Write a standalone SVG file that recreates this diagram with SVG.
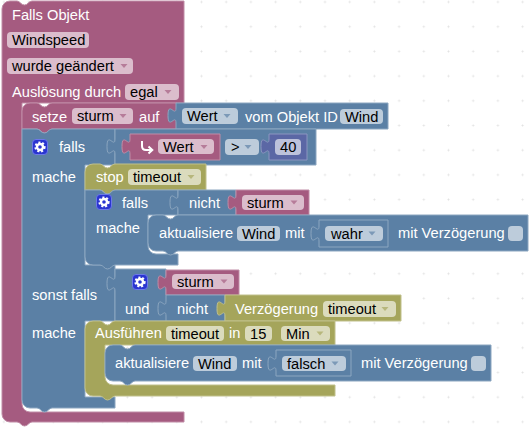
<svg xmlns="http://www.w3.org/2000/svg" xmlns:xlink="http://www.w3.org/1999/xlink" width="531" height="429" viewBox="0 0 531 429">
<style>
text{font-family:"Liberation Sans",Arial,sans-serif;font-size:14.67px}
.l{fill:#fff}.d{fill:#000}
.pk{fill:#A55B80;stroke:#C08CA6;stroke-width:1}
.bl{fill:#5B80A5;stroke:#8CA6C0;stroke-width:1}
.ol{fill:#A5A55B;stroke:#C0C08C;stroke-width:1}
.pu{fill:#5B67A5;stroke:#8C95C0;stroke-width:1}
.fp{fill:#DBBDCC}.fb{fill:#BDCCDB}.fo{fill:#DBDBBD}.fu{fill:#BDC2DB}
.ap{fill:#B67C99}.ab{fill:#7C99B7}.ao{fill:#B7B77C}
.gb{fill:#2A35D0;stroke:#6C78E8;stroke-width:1}
.gr{fill:none;stroke:#fff;stroke-width:2.4}
.gt{fill:none;stroke:#fff;stroke-width:2;stroke-dasharray:2 1.9}
</style>
<defs>
<pattern id="grid" patternUnits="userSpaceOnUse" x="-8.45" y="-10.35" width="24.7" height="24.7">
<path d="M11.35,12.35h2M12.35,11.35v2" stroke="#e2e2e2" stroke-width="1" fill="none"/>
</pattern>
<path id="arr" d="M-3.5,-2h7l-3.5,4z"/>
<g id="gear">
<rect class="gb" x="0.5" y="0.5" width="15" height="15" rx="3.5"/>
<circle class="gt" cx="8" cy="8" r="4.6"/>
<circle class="gr" cx="8" cy="8" r="3"/>
</g>
</defs>
<rect width="531" height="429" fill="#fff"/>
<rect width="531" height="429" fill="url(#grid)"/>

<g id="trigger">
<path class="pk" d="M2,9a8,8 0 0 1 8,-8H17c3,0 4,4 7.500,4s4,-4 7.500,-4H184V103H22V404a8,8 0 0 0 8,8H184V422H32c-3,0 -4,4 -7.500,4s-4,-4 -7.500,-4H10a8,8 0 0 1 -8,-8z"/>
<text class="l" x="12" y="20">Falls Objekt</text>
<rect class="fp" x="7" y="32" width="82" height="16" rx="4"/><text class="d" x="12" y="45">Windspeed</text>
<rect class="fp" x="7" y="58" width="126" height="16" rx="4"/><text class="d" x="12" y="71">wurde geändert</text><use href="#arr" x="124" y="66" class="ap"/>
<text class="l" x="12" y="97">Auslösung durch</text>
<rect class="fp" x="125" y="84" width="54" height="16" rx="4"/><text class="d" x="130" y="97">egal</text><use href="#arr" x="168" y="92" class="ap"/>
</g>

<g id="setze">
<path class="pk" d="M22,111a8,8 0 0 1 8,-8H37c3,0 4,4 7.500,4s4,-4 7.500,-4H177V129H52c-3,0 -4,4 -7.500,4s-4,-4 -7.500,-4H22z"/>
<text class="l" x="32" y="122">setze</text>
<rect class="fp" x="72" y="108" width="61" height="16" rx="4"/><text class="d" x="77" y="121">sturm</text><use href="#arr" x="123" y="116" class="ap"/>
<text class="l" x="139" y="122">auf</text>
</g>
<g id="wert-objekt">
<path class="bl" d="M176,103H388V129H176V123c0,-10 -8,8 -8,-7.500s8,2.500 8,-7.500z"/>
<rect class="fb" x="182" y="108" width="56" height="16" rx="4"/><text class="d" x="187" y="121">Wert</text><use href="#arr" x="227" y="116" class="ab"/>
<text class="l" x="245" y="122">vom Objekt ID</text>
<rect class="fb" x="340" y="109" width="43" height="15" rx="4"/><text class="d" x="345" y="121.500">Wind</text>
</g>

<g id="falls-outer">
<path class="bl" d="M22,129H37c3,0 4,4 7.500,4s4,-4 7.500,-4H115V165H85V265H115V321H85V397H115V408H52c-3,0 -4,4 -7.500,4s-4,-4 -7.500,-4H30a8,8 0 0 1 -8,-8z"/>
<use href="#gear" x="32" y="139"/>
<text class="l" x="59" y="152">falls</text>
<text class="l" x="32" y="182">mache</text>
<text class="l" x="32" y="300">sonst falls</text>
<text class="l" x="32" y="338">mache</text>
</g>

<g id="vergleich">
<path class="bl" d="M115,129H316V165H115V154c0,-10 -8,8 -8,-7.500s8,2.500 8,-7.500z"/>
<rect class="fb" x="225" y="139" width="34" height="16" rx="4"/><text class="d" x="231" y="152">&gt;</text><use href="#arr" x="248" y="147" class="ab"/>
</g>
<g id="wert-var">
<path class="pk" d="M130,134H220V160H130V154c0,-10 -8,8 -8,-7.500s8,2.500 8,-7.500z"/>
<path d="M142,141v5q0,4 4,4h6M148.500,146.500l3.800,3.500l-3.800,3.500" fill="none" stroke="#fff" stroke-width="2"/>
<rect class="fp" x="158" y="139" width="56" height="15" rx="4"/><text class="d" x="163" y="152">Wert</text><use href="#arr" x="204" y="147" class="ap"/>
</g>
<g id="zahl">
<path class="pu" d="M269,134H307V160H269V154c0,-10 -8,8 -8,-7.500s8,2.500 8,-7.500z"/>
<rect class="fu" x="275" y="139" width="26" height="16" rx="4"/><text class="d" x="280" y="152">40</text>
</g>

<g id="stop">
<path class="ol" d="M85,172a8,8 0 0 1 8,-8H100c3,0 4,4 7.500,4s4,-4 7.500,-4H206V190H115c-3,0 -4,4 -7.500,4s-4,-4 -7.500,-4H85z"/>
<text class="l" x="96" y="182">stop</text>
<rect class="fo" x="128" y="169" width="73" height="16" rx="4"/><text class="d" x="133" y="182">timeout</text><use href="#arr" x="191" y="177" class="ao"/>
</g>

<g id="falls-inner">
<path class="bl" d="M85,190H100c3,0 4,4 7.500,4s4,-4 7.500,-4H178V215H148V246a8,8 0 0 0 8,8H178V265H115c-3,0 -4,4 -7.500,4s-4,-4 -7.500,-4H93a8,8 0 0 1 -8,-8z"/>
<use href="#gear" x="96" y="194"/>
<text class="l" x="122" y="208">falls</text>
<text class="l" x="96" y="233">mache</text>
</g>
<g id="nicht-1">
<path class="bl" d="M178,190H236V215H178V210c0,-10 -8,8 -8,-7.500s8,2.500 8,-7.500z"/>
<text class="l" x="189" y="208">nicht</text>
</g>
<g id="sturm-1">
<path class="pk" d="M236,190H309V215H236V210c0,-10 -8,8 -8,-7.500s8,2.500 8,-7.500z"/>
<rect class="fp" x="242" y="195" width="62" height="15" rx="4"/><text class="d" x="247" y="207.500">sturm</text><use href="#arr" x="294" y="202.500" class="ap"/>
</g>

<g id="aktualisiere-1">
<path class="bl" d="M148,223a8,8 0 0 1 8,-8H163c3,0 4,4 7.500,4s4,-4 7.500,-4H528V251H178c-3,0 -4,4 -7.500,4s-4,-4 -7.500,-4H156a8,8 0 0 1 -8,-8z"/>
<text class="l" x="159" y="238">aktualisiere</text>
<rect class="fb" x="237" y="226" width="43" height="15" rx="4"/><text class="d" x="242" y="238.500">Wind</text>
<text class="l" x="285" y="238">mit</text>
<path class="bl" d="M319,220H388V247H319V241c0,-10 -8,8 -8,-7.500s8,2.500 8,-7.500z"/>
<rect class="fb" x="325" y="226" width="58" height="15" rx="4"/><text class="d" x="331" y="238.500">wahr</text><use href="#arr" x="372" y="233.500" class="ab"/>
<text class="l" x="398" y="238">mit Verzögerung</text>
<rect class="fb" x="508" y="226" width="15" height="15" rx="4"/>
</g>

<g id="und">
<path class="bl" d="M115,269H166V295H225V321H115V291c0,-10 -8,8 -8,-7.500s8,2.500 8,-7.500z"/>
<use href="#gear" x="132" y="274"/>
<text class="l" x="125" y="314">und</text>
</g>
<g id="sturm-2">
<path class="pk" d="M166,270H239V295H166V290c0,-10 -8,8 -8,-7.500s8,2.500 8,-7.500z"/>
<rect class="fp" x="172" y="274" width="62" height="15" rx="4"/><text class="d" x="177" y="286.500">sturm</text><use href="#arr" x="224" y="281.500" class="ap"/>
</g>
<g id="nicht-2">
<path class="bl" d="M166,295H225V321H166V316c0,-10 -8,8 -8,-7.500s8,2.500 8,-7.500z"/>
<text class="l" x="177" y="314">nicht</text>
</g>
<g id="verzoegerung">
<path class="ol" d="M225,295H401V321H225V316c0,-10 -8,8 -8,-7.500s8,2.500 8,-7.500z"/>
<text class="l" x="235" y="314">Verzögerung</text>
<rect class="fo" x="323" y="301" width="73" height="16" rx="4"/><text class="d" x="328" y="314">timeout</text><use href="#arr" x="385" y="309" class="ao"/>
</g>

<g id="ausfuehren">
<path class="ol" d="M85,329a8,8 0 0 1 8,-8H100c3,0 4,4 7.500,4s4,-4 7.500,-4H335V345H105V377a8,8 0 0 0 8,8H335V396H115c-3,0 -4,4 -7.500,4s-4,-4 -7.500,-4H93a8,8 0 0 1 -8,-8z"/>
<text class="l" x="95" y="338">Ausführen</text>
<rect class="fo" x="166" y="326" width="58" height="15" rx="4"/><text class="d" x="171" y="338.500">timeout</text>
<text class="l" x="229" y="338">in</text>
<rect class="fo" x="245" y="326" width="27" height="15" rx="4"/><text class="d" x="250" y="338.500">15</text>
<rect class="fo" x="281" y="326" width="49" height="15" rx="4"/><text class="d" x="286" y="338.500">Min</text><use href="#arr" x="320" y="333.500" class="ao"/>
</g>

<g id="aktualisiere-2">
<path class="bl" d="M105,353a8,8 0 0 1 8,-8H120c3,0 4,4 7.500,4s4,-4 7.500,-4H491V381H135c-3,0 -4,4 -7.500,4s-4,-4 -7.500,-4H113a8,8 0 0 1 -8,-8z"/>
<text class="l" x="115" y="368">aktualisiere</text>
<rect class="fb" x="193" y="356" width="44" height="15" rx="4"/><text class="d" x="198" y="368.500">Wind</text>
<text class="l" x="242" y="368">mit</text>
<path class="bl" d="M276,350H351V376H276V371c0,-10 -8,8 -8,-7.500s8,2.500 8,-7.500z"/>
<rect class="fb" x="282" y="356" width="64" height="15" rx="4"/><text class="d" x="287" y="368.500">falsch</text><use href="#arr" x="335" y="363.500" class="ab"/>
<text class="l" x="361" y="368">mit Verzögerung</text>
<rect class="fb" x="471" y="356" width="15" height="15" rx="4"/>
</g>
</svg>
